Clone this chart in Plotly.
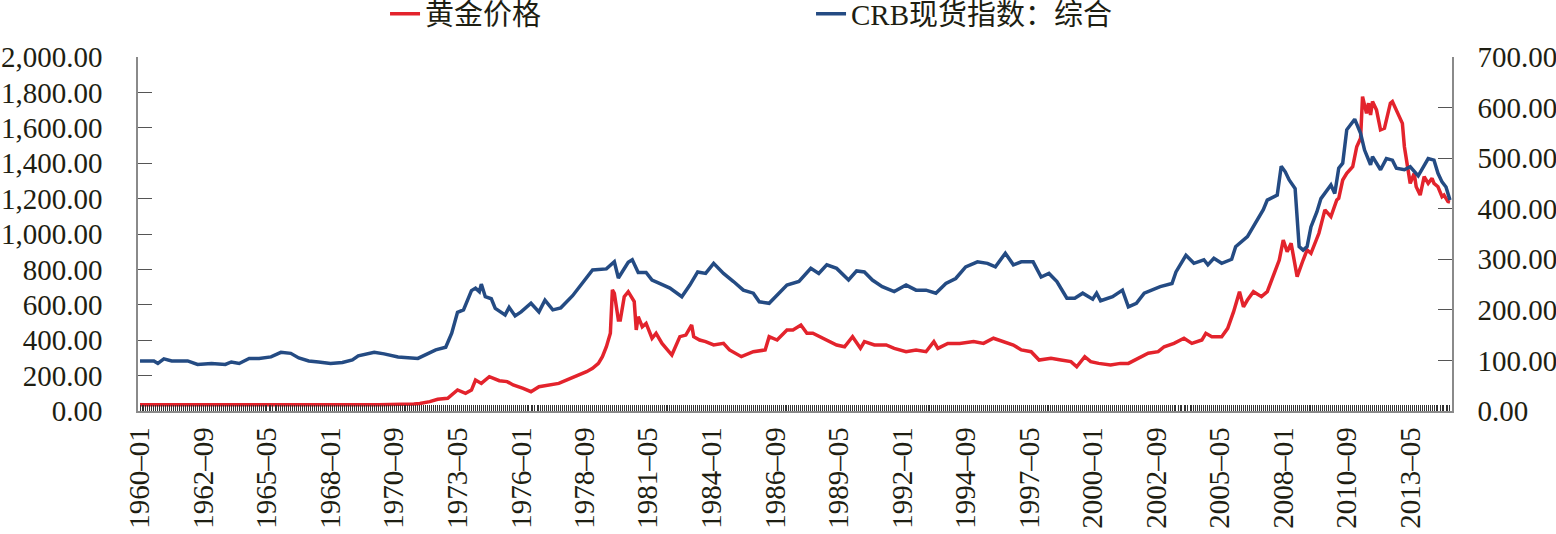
import plotly.graph_objects as go

# ---- data ----
gold_dates = [
    "1960-01", "1968-01", "1970-01", "1971-07", "1971-10", "1972-03", "1972-07", "1972-12",
    "1973-02", "1973-05", "1973-09", "1973-12", "1974-02", "1974-05", "1974-09", "1975-02",
    "1975-06", "1975-09", "1976-02", "1976-06", "1976-10", "1977-03", "1977-08", "1978-01",
    "1978-06", "1978-10", "1979-01", "1979-04", "1979-06", "1979-08", "1979-10", "1979-11",
    "1979-12", "1980-02", "1980-03", "1980-05", "1980-07", "1980-08", "1980-10", "1980-11",
    "1980-12", "1981-02", "1981-04", "1981-07", "1981-09", "1981-12", "1982-05", "1982-09",
    "1982-12", "1983-03", "1983-04", "1983-07", "1983-10", "1984-02", "1984-07", "1984-10",
    "1985-04", "1985-10", "1986-04", "1986-06", "1986-10", "1987-03", "1987-06", "1987-10",
    "1988-01", "1988-04", "1988-09", "1989-04", "1989-08", "1989-12", "1990-04", "1990-06",
    "1990-11", "1991-05", "1991-09", "1992-03", "1992-08", "1993-01", "1993-05", "1993-07",
    "1993-12", "1994-06", "1995-01", "1995-06", "1995-11", "1996-04", "1996-09", "1997-01",
    "1997-06", "1997-10", "1998-04", "1998-09", "1999-02", "1999-05", "1999-09", "1999-12",
    "2000-04", "2000-10", "2001-03", "2001-07", "2001-12", "2002-05", "2002-10", "2003-01",
    "2003-06", "2003-11", "2004-03", "2004-08", "2004-10", "2005-01", "2005-06", "2005-09",
    "2005-12", "2006-03", "2006-05", "2006-07", "2006-10", "2007-02", "2007-05", "2007-09",
    "2007-11", "2008-01", "2008-03", "2008-05", "2008-08", "2008-11", "2009-01", "2009-03",
    "2009-05", "2009-07", "2009-10", "2010-01", "2010-04", "2010-05", "2010-07", "2010-09",
    "2010-12", "2011-02", "2011-04", "2011-05", "2011-07", "2011-08", "2011-09", "2011-10",
    "2011-12", "2012-02", "2012-04", "2012-07", "2012-08", "2012-10", "2013-01", "2013-02",
    "2013-04", "2013-05", "2013-07", "2013-08", "2013-10", "2013-12", "2014-02", "2014-04",
    "2014-05", "2014-07", "2014-09", "2014-10", "2014-12", "2015-01",
]
gold_values = [
    35, 35, 36, 40, 42, 53, 66, 72,
    90, 119, 100, 118, 175, 156, 194, 171,
    166, 147, 128, 109, 137, 147, 156, 180,
    203, 222, 241, 269, 307, 363, 439, 684,
    665, 514, 514, 646, 674, 655, 618, 458,
    533, 476, 495, 411, 439, 382, 316, 420,
    429, 486, 420, 401, 392, 373, 382, 345,
    307, 335, 345, 420, 401, 458, 458, 486,
    439, 439, 411, 373, 363, 420, 354, 392,
    373, 373, 354, 335, 345, 335, 392, 354,
    382, 382, 392, 382, 411, 392, 373, 345,
    335, 288, 298, 288, 279, 250, 307, 279,
    269, 260, 269, 269, 298, 326, 335, 363,
    382, 411, 382, 401, 439, 420, 420, 467,
    561, 674, 589, 627, 674, 646, 674, 797,
    853, 966, 900, 947, 759, 853, 910, 891,
    947, 1004, 1136, 1098, 1192, 1202, 1305, 1343,
    1380, 1493, 1541, 1776, 1682, 1739, 1672, 1748,
    1701, 1588, 1597, 1739, 1748, 1701, 1625, 1493,
    1371, 1286, 1343, 1267, 1220, 1324, 1286, 1315,
    1286, 1267, 1211, 1220, 1183, 1180,
]

crb_dates = [
    "1960-01", "1960-08", "1960-10", "1961-01", "1961-05", "1962-01", "1962-06", "1963-01",
    "1963-08", "1963-11", "1964-03", "1964-08", "1965-01", "1965-07", "1965-12", "1966-05",
    "1966-09", "1967-02", "1967-07", "1968-01", "1968-07", "1968-12", "1969-03", "1969-11",
    "1970-04", "1970-11", "1971-09", "1972-01", "1972-06", "1972-11", "1973-02", "1973-05",
    "1973-08", "1973-12", "1974-02", "1974-04", "1974-05", "1974-07", "1974-10", "1974-12",
    "1975-05", "1975-07", "1975-10", "1976-01", "1976-06", "1976-10", "1977-01", "1977-05",
    "1977-09", "1978-03", "1978-08", "1979-01", "1979-08", "1979-12", "1980-02", "1980-07",
    "1980-09", "1980-12", "1981-04", "1981-07", "1981-11", "1982-04", "1982-10", "1983-02",
    "1983-06", "1983-10", "1984-02", "1984-07", "1984-12", "1985-05", "1985-10", "1986-01",
    "1986-06", "1986-10", "1987-03", "1987-09", "1988-03", "1988-07", "1988-11", "1989-04",
    "1989-10", "1990-02", "1990-06", "1990-10", "1991-03", "1991-09", "1992-03", "1992-08",
    "1993-01", "1993-06", "1993-11", "1994-04", "1994-09", "1995-03", "1995-08", "1995-12",
    "1996-05", "1996-09", "1997-01", "1997-07", "1997-11", "1998-03", "1998-07", "1998-12",
    "1999-04", "1999-08", "2000-01", "2000-03", "2000-05", "2000-11", "2001-04", "2001-07",
    "2001-11", "2002-03", "2002-11", "2003-05", "2003-07", "2003-12", "2004-04", "2004-09",
    "2004-11", "2005-02", "2005-06", "2005-11", "2006-01", "2006-07", "2006-10", "2007-03",
    "2007-05", "2007-10", "2007-12", "2008-02", "2008-04", "2008-07", "2008-09", "2008-11",
    "2009-01", "2009-03", "2009-06", "2009-08", "2010-01", "2010-03", "2010-05", "2010-07",
    "2010-09", "2011-01", "2011-04", "2011-06", "2011-09", "2011-10", "2012-02", "2012-05",
    "2012-08", "2012-10", "2013-02", "2013-05", "2013-09", "2014-02", "2014-05", "2014-07",
    "2014-09", "2014-11", "2015-01",
]
crb_values = [
    99, 99, 94, 103, 99, 99, 92, 94,
    92, 97, 94, 104, 104, 107, 116, 114,
    105, 99, 97, 94, 96, 101, 109, 116,
    113, 107, 104, 111, 121, 126, 154, 195,
    200, 238, 243, 236, 251, 226, 222, 203,
    190, 205, 188, 196, 213, 196, 219, 200,
    204, 228, 254, 279, 281, 295, 263, 294,
    299, 274, 274, 259, 252, 243, 226, 249,
    275, 272, 292, 272, 256, 239, 233, 216,
    213, 229, 249, 256, 282, 272, 289, 282,
    259, 277, 275, 259, 246, 236, 249, 239,
    239, 233, 252, 262, 285, 295, 292, 285,
    312, 289, 295, 295, 265, 272, 256, 223,
    223, 233, 221, 233, 218, 226, 239, 206,
    213, 233, 246, 252, 275, 308, 292, 299,
    289, 302, 292, 300, 325, 345, 366, 398,
    417, 427, 484, 473, 457, 440, 325, 318,
    325, 364, 394, 420, 447, 430, 480, 490,
    556, 577, 549, 516, 487, 503, 477, 499,
    496, 480, 477, 483, 465, 499, 496, 470,
    453, 443, 417,
]

tick_dates = [
    "1960-01", "1962-09", "1965-05", "1968-01", "1970-09", "1973-05", "1976-01",
    "1978-09", "1981-05", "1984-01", "1986-09", "1989-05", "1992-01", "1994-09",
    "1997-05", "2000-01", "2002-09", "2005-05", "2008-01", "2010-09", "2013-05",
]
tick_labels = [d.replace("-", "–") for d in tick_dates]

gold_name = "黄金价格"
crb_name = "CRB现货指数：综合"

# ---- styles ----
RED = "#E3232C"
BLUE = "#244B83"
TXT = "#1E1E12"
AX = "#8A8A8A"
FONT = "Liberation Serif, Times New Roman, Noto Sans CJK SC, serif"
FS = 29

fig = go.Figure()
fig.add_trace(go.Scatter(x=gold_dates, y=gold_values, name=gold_name, mode="lines",
                         line=dict(color=RED, width=3.5), yaxis="y"))
fig.add_trace(go.Scatter(x=crb_dates, y=crb_values, name=crb_name, mode="lines",
                         line=dict(color=BLUE, width=3.5), yaxis="y2"))

fig.update_layout(
    width=1556, height=534, autosize=False,
    margin=dict(l=138, r=104, t=57, b=123),
    paper_bgcolor="white", plot_bgcolor="white",
    font=dict(family=FONT, size=FS, color=TXT),
    showlegend=True,
    legend=dict(orientation="h", xref="paper", x=0.188, xanchor="left",
                yref="container", y=0.974, yanchor="middle",
                font=dict(family=FONT, size=FS, color=TXT),
                entrywidth=381, entrywidthmode="pixels",
                bgcolor="rgba(0,0,0,0)", traceorder="normal"),
    xaxis=dict(
        type="date", range=["1959-12-01", "2015-02-01"], automargin=False,
        tickmode="array", tickvals=tick_dates, ticktext=tick_labels,
        tickangle=-90, ticks="inside", ticklen=6, tickwidth=1, tickcolor="#333",
        ticklabelstandoff=3,
        minor=dict(dtick="M1", tick0="1960-01-01", ticks="inside", ticklen=6,
                   tickwidth=1, tickcolor="#333", showgrid=False),
        showline=True, linecolor=AX, linewidth=1.5, showgrid=False, zeroline=False,
        tickfont=dict(family=FONT, size=FS, color=TXT),
    ),
    yaxis=dict(
        range=[0, 2000], dtick=200, tick0=0, tickformat=",.2f", automargin=False,
        ticks="inside", ticklen=14, tickcolor="#555", tickwidth=1,
        showline=True, linecolor=AX, linewidth=1.5, showgrid=False, zeroline=False,
        ticklabelstandoff=28,
        tickfont=dict(family=FONT, size=FS, color=TXT),
    ),
    yaxis2=dict(
        range=[0, 700], dtick=100, tick0=0, tickformat=".2f", automargin=False,
        overlaying="y", side="right",
        ticks="inside", ticklen=14, tickcolor="#555", tickwidth=1,
        showline=True, linecolor=AX, linewidth=1.5, showgrid=False, zeroline=False,
        ticklabelstandoff=18,
        tickfont=dict(family=FONT, size=FS, color=TXT),
    ),
)

fig.write_html("out.html")
